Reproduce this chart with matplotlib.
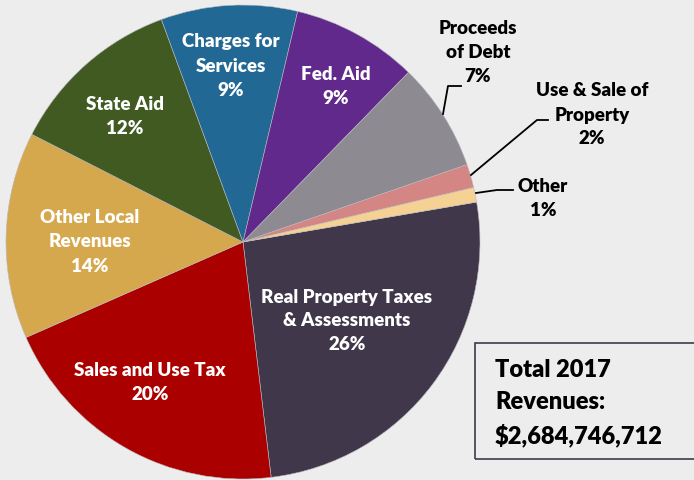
import matplotlib.pyplot as plt
from matplotlib.patches import Rectangle

# slices, clockwise from the right edge
names = ['Real Property Taxes\n& Assessments', 'Sales and Use Tax', 'Other Local\nRevenues',
         'State Aid', 'Charges for\nServices', 'Fed. Aid', 'Proceeds\nof Debt',
         'Use & Sale of\nProperty', 'Other']
shares = [25.8, 20.3, 14.1, 11.9, 9.3, 8.6, 7.4, 1.6, 1.0]
colors = ['#41374A', '#AB0000', '#D6A84E', '#405A22', '#226894',
          '#62298C', '#8E8A91', '#D38683', '#F5D294']
total_text = 'Total 2017\nRevenues:\n$2,684,746,712'

W, H = 694, 481
bg = '#EDEDED'
font = 'Lato'

fig = plt.figure(figsize=(W / 100, H / 100), dpi=100, facecolor=bg)
ax = fig.add_axes([0, 0, 1, 1])
ax.set_facecolor(bg)

def py(y):
    # picture rows run downwards
    return H - y

ax.pie(shares, colors=colors, startangle=9.7, counterclock=False,
       center=(243, py(243)), radius=237, frame=True,
       wedgeprops=dict(edgecolor='#B8B8C0', linewidth=0.4))
ax.set_xlim(0, W)
ax.set_ylim(0, H)
ax.axis('off')

labels = [n + '\n' + str(round(s)) + '%' for n, s in zip(names, shares)]

# text inside the slices
inside = {0: (347, 321), 1: (150, 383), 2: (90, 242), 3: (125, 117),
          4: (231, 66), 5: (336, 87)}
for i, (x, y) in inside.items():
    ax.text(x, py(y), labels[i], ha='center', va='center', color='white',
            fontsize=13.5, fontweight='heavy', family=font, linespacing=1.5)

# text outside with leader lines
outside = {6: (478, 53), 7: (592, 115), 8: (543, 198)}
for i, (x, y) in outside.items():
    ax.text(x, py(y), labels[i], ha='center', va='center', color='black',
            fontsize=13.5, fontweight='heavy', family=font, linespacing=1.5)

leaders = [[(443, 115), (448, 87), (461, 87)],
           [(471, 176), (537, 121), (548, 121)],
           [(476, 194), (497, 191), (513, 191)]]
for pts in leaders:
    ax.plot([p[0] for p in pts], [py(p[1]) for p in pts], color='black', lw=1.3)

# total box
ax.add_patch(Rectangle((475, py(460)), 240, 116, facecolor='none',
                       edgecolor='#3F3A4A', lw=1.2, clip_on=False))
ax.text(495, py(403), total_text, ha='left', va='center', color='black',
        fontsize=17, fontweight='heavy', family=font, linespacing=1.55)

fig.savefig('out.png', dpi=100, facecolor=bg)
